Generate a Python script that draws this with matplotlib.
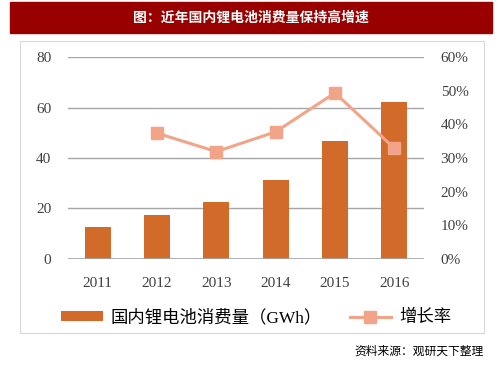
import matplotlib.pyplot as plt
from matplotlib.patches import Rectangle
from matplotlib.ticker import FuncFormatter

plt.rcParams['font.family'] = ['Liberation Serif', 'Noto Sans CJK SC']

years = ['2011', '2012', '2013', '2014', '2015', '2016']
consumption = [12.5, 17.2, 22.6, 31.3, 46.8, 62.2]   # GWh
growth = [None, 37.4, 31.9, 37.8, 49.4, 32.9]          # %

bar_color = '#D26B2A'
line_color = '#F2A488'

fig = plt.figure(figsize=(5.03, 3.78), dpi=100)

# title banner
fig.patches.append(Rectangle((10 / 503, 1 - 33 / 378), 482 / 503, 31 / 378,
                             transform=fig.transFigure, color='#990000', zorder=0))
fig.text(251 / 503, 1 - 18 / 378, '图：近年国内锂电池消费量保持高增速', color='white',
         ha='center', va='center', fontsize=10, fontweight='bold',
         family=['Noto Sans CJK SC'])

# chart frame
fig.patches.append(Rectangle((20 / 503, 1 - 333 / 378), 464 / 503, 292 / 378,
                             transform=fig.transFigure, fill=False,
                             edgecolor='#D9D9D9', lw=0.8))

ax = fig.add_axes([68 / 503, 1 - 258.7 / 378, 356 / 503, 201.4 / 378])
x = list(range(len(years)))
ax.bar(x, consumption, width=0.44, color=bar_color, zorder=3,
       label='国内锂电池消费量（GWh）')
ax.set_xlim(-0.5, 5.5)
ax.set_ylim(0, 80)
ax.set_yticks([0, 20, 40, 60, 80])
ax.set_xticks(x)
ax.set_xticklabels(years)
ax.grid(axis='y', color='#A6A6A6', lw=1, zorder=0)
for s in ax.spines.values():
    s.set_visible(False)
ax.axhline(0, color='#A6A6A6', lw=1.2, zorder=4)
ax.tick_params(length=0, labelsize=11, colors='#404040')
ax.tick_params(axis='x', pad=13)
ax.tick_params(axis='y', pad=12)

ax2 = ax.twinx()
gx = [i for i, g in zip(x, growth) if g is not None]
gy = [g for g in growth if g is not None]
ax2.plot(gx, gy, color=line_color, lw=2.2, marker='s', markersize=8.5,
         zorder=5, label='增长率')
ax2.set_ylim(0, 60)
ax2.set_yticks(range(0, 61, 10))
ax2.yaxis.set_major_formatter(FuncFormatter(lambda v, p: f'{v:.0f}%'))
for s in ax2.spines.values():
    s.set_visible(False)
ax2.tick_params(length=0, labelsize=11, colors='#404040', pad=12)

h1, l1 = ax.get_legend_handles_labels()
h2, l2 = ax2.get_legend_handles_labels()
fig.legend(h1 + h2, l1 + l2, loc='center', bbox_to_anchor=(256 / 503, 1 - 318 / 378),
           ncol=2, frameon=False, handlelength=2.4, handleheight=0.55,
           handletextpad=0.45, columnspacing=1.6,
           prop={'family': ['Liberation Serif', 'Noto Sans CJK SC'], 'size': 12.5})

fig.text(484 / 503, 1 - 351 / 378, '资料来源：观研天下整理', ha='right', va='center',
         fontsize=8.5, family=['Noto Sans CJK SC'])

fig.savefig('out.png', dpi=100)
